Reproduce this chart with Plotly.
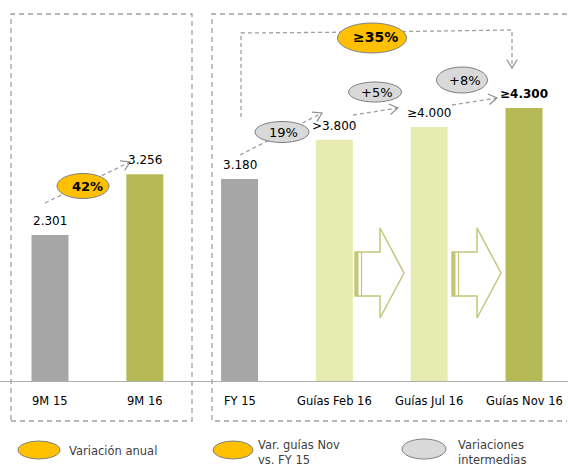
import math
import plotly.graph_objects as go

# ---------------- data ----------------
categories = ["9M 15", "9M 16", "FY 15", "Guías Feb 16", "Guías Jul 16", "Guías Nov 16"]
values = [2301, 3256, 3180, 3800, 4000, 4300]
value_labels = ["2.301", "3.256", "3.180", ">3.800", "≥4.000", "≥4.300"]
change_labels = ["42%", "19%", "+5%", "+8%", "≥35%"]
legend_labels = ["Variación anual", "Var. guías Nov<br>vs. FY 15", "Variaciones<br>intermedias"]

# ---------------- styles ----------------
GRAY = "#A6A6A6"
OLIVE = "#B5BA57"
LIGHT = "#E6EBB0"
ORANGE = "#FFC000"
ELL_GRAY = "#D9D9D9"
DASH = "#A0A0A0"
ARROW_OL = "#C2C77A"
FONT = "DejaVu Sans, Verdana, sans-serif"
bar_colors = [GRAY, OLIVE, GRAY, LIGHT, LIGHT, OLIVE]

OFF = 0            # page body margin is removed below
W, H = 568 - OFF, 468 - OFF
PB = 381           # window pixel row of the baseline
PH = PB - OFF      # plot height in figure pixels
SCALE = 0.0635     # pixels per unit
STEP = 94.8        # pixels per category
X0 = 50            # window pixel of the first category centre


def px(x):
    return (x - OFF) / W


def py(y):
    return (PB - y) / PH


def ell(cx, cy, w, h, fill, line="#7F7F7F"):
    return dict(type="circle", xref="paper", yref="paper",
                x0=px(cx - w / 2), x1=px(cx + w / 2),
                y0=py(cy + h / 2), y1=py(cy - h / 2),
                fillcolor=fill, line=dict(color=line, width=1), layer="above")


def path(points, color=DASH, width=1.3, dash=None, close=False, fill=None):
    d = "M " + " L ".join(f"{px(x):.5f},{py(y):.5f}" for x, y in points)
    if close:
        d += " Z"
    shp = dict(type="path", xref="paper", yref="paper", path=d,
               line=dict(color=color, width=width), layer="above")
    if dash:
        shp["line"]["dash"] = dash
    if fill:
        shp["fillcolor"] = fill
    return shp


def head(x0, y0, x1, y1, L=10, ang=32):
    dx, dy = x1 - x0, y1 - y0
    n = math.hypot(dx, dy)
    ux, uy = dx / n, dy / n
    a = math.radians(ang)
    pts = []
    for s in (1, -1):
        c, si = math.cos(s * a), math.sin(s * a)
        rx = ux * c - uy * si
        ry = ux * si + uy * c
        pts.append((x1 - L * rx, y1 - L * ry))
    return path([pts[0], (x1, y1), pts[1]], color="#909090", width=1.2)


fig = go.Figure()
fig.add_trace(go.Bar(x=list(range(len(values))), y=values,
                     marker=dict(color=bar_colors, line=dict(width=0)),
                     width=0.39, hoverinfo="skip"))

shapes = []
# dashed panels
shapes.append(dict(type="rect", xref="paper", yref="paper",
                   x0=px(11), x1=px(192), y0=py(421), y1=py(14),
                   line=dict(color=DASH, width=1.3, dash="5px,4px"), layer="above"))
shapes.append(path([(567, 14), (212, 14), (212, 421), (567, 421)], width=1.3, dash="5px,4px"))

# dashed arrows
arrows = [((45, 203), (130, 162)), ((240, 155), (322, 113)),
          ((353, 115), (398, 108)), ((452, 105), (497, 98))]
for (a, b) in arrows:
    shapes.append(path([a, b], dash="4px,3px"))
    shapes.append(head(a[0], a[1], b[0], b[1]))
# bracket arrow
shapes.append(path([(241, 117), (241, 33), (372, 32), (512, 30), (512, 68)], dash="4px,3px"))
shapes.append(head(512, 50, 512, 68))

# hollow block arrows
for x0 in (355, 452):
    shapes.append(path([(x0, 252), (x0 + 25, 252), (x0 + 25, 228), (x0 + 49, 273),
                        (x0 + 25, 318), (x0 + 25, 296), (x0, 296)],
                       color=ARROW_OL, width=1.5, close=True, fill="white"))
    shapes.append(dict(type="rect", xref="paper", yref="paper",
                       x0=px(x0), x1=px(x0 + 3.5), y0=py(296), y1=py(252),
                       fillcolor=ARROW_OL, line=dict(width=0), layer="above"))
    shapes.append(path([(x0 + 6.5, 252), (x0 + 6.5, 296)], color=ARROW_OL, width=1.2))

# change ellipses
ellipses = [(83, 186, 52, 25, ORANGE), (282, 132, 54, 21, ELL_GRAY),
            (375, 92, 53, 20, ELL_GRAY), (462, 80, 51, 26, ELL_GRAY),
            (372, 38, 69, 30, ORANGE)]
for cx, cy, w, h, f in ellipses:
    shapes.append(ell(cx, cy, w, h, f))

# legend ellipses
for cx, cy, w, h, f in [(39, 450, 42, 18, ORANGE), (233, 450, 40, 18, ORANGE),
                        (424, 449, 44, 20, ELL_GRAY)]:
    shapes.append(ell(cx, cy, w, h, f))

annotations = []
# value labels
for i, (v, t) in enumerate(zip(values, value_labels)):
    last = i == len(values) - 1
    annotations.append(dict(x=i, y=v, xref="x", yref="y", text=f"<b>{t}</b>" if last else t,
                            showarrow=False, yshift=14, yanchor="middle",
                            font=dict(family=FONT, size=12, color="#000")))
# category labels
for i, c in enumerate(categories):
    annotations.append(dict(x=i, y=py(401), xref="x", yref="paper", text=c,
                            showarrow=False, yanchor="middle",
                            font=dict(family=FONT, size=11.5, color="#000")))
# change labels
chg_pos = [(87, 186, 13, True), (283, 132, 13, False), (377, 92, 13, False),
           (465, 80, 13, False), (375, 37, 14, True)]
for (x, y, s, b), t in zip(chg_pos, change_labels):
    annotations.append(dict(x=px(x), y=py(y), xref="paper", yref="paper",
                            text=f"<b>{t}</b>" if b else t, showarrow=False,
                            xanchor="center", yanchor="middle",
                            font=dict(family=FONT, size=s, color="#000")))
# legend labels
leg_pos = [(67, 451, "middle"), (256, 436, "top"), (456, 436, "top")]
for (x, y, ya), t in zip(leg_pos, legend_labels):
    annotations.append(dict(x=px(x), y=py(y), xref="paper", yref="paper", text=t,
                            showarrow=False, xanchor="left", yanchor=ya, align="left",
                            font=dict(family=FONT, size=11.5, color="#404040")))

fig.update_layout(
    width=W, height=H,
    margin=dict(l=0, r=0, t=0, b=H - PH, pad=0),
    paper_bgcolor="white", plot_bgcolor="white",
    showlegend=False,
    xaxis=dict(range=[(OFF - X0) / STEP, (568 - X0) / STEP], showgrid=False, zeroline=False,
               showticklabels=False, ticks="", showline=True, linecolor="#B0B0B0",
               linewidth=1, fixedrange=True),
    yaxis=dict(range=[0, PH / SCALE], showgrid=False, zeroline=False,
               showticklabels=False, ticks="", showline=False, fixedrange=True),
    shapes=shapes, annotations=annotations,
)

fig.write_html(
    "out.html",
    config={"displayModeBar": False, "staticPlot": True},
    post_script="document.body.style.margin='0';document.body.style.overflow='hidden';",
)
